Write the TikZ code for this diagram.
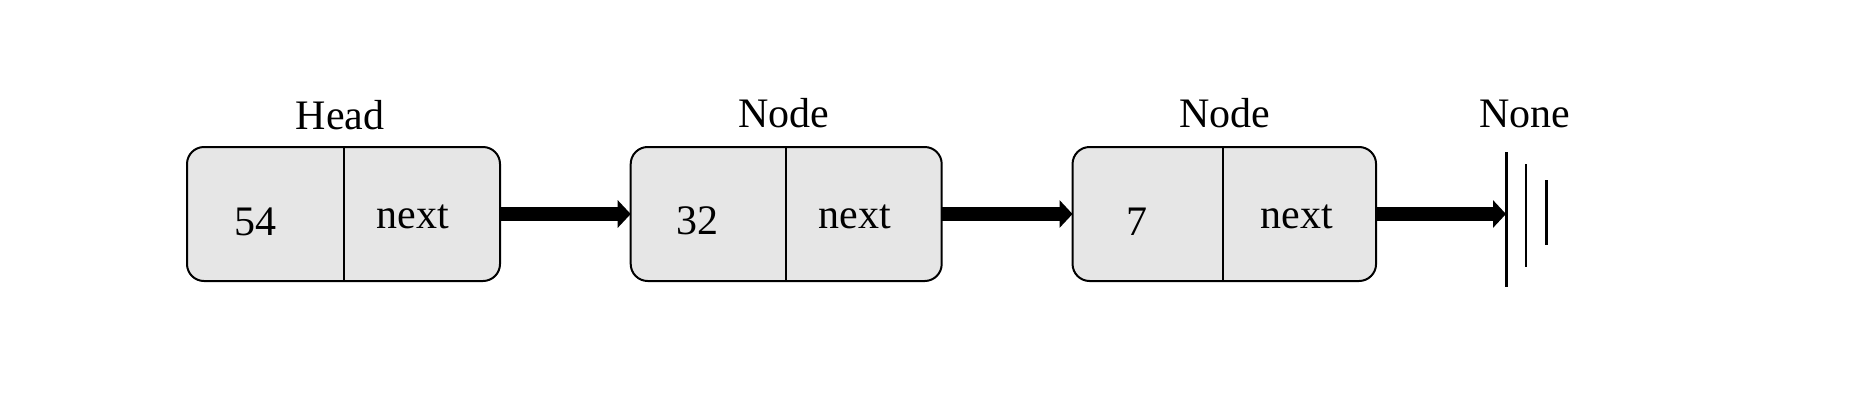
\documentclass[tikz,border=0pt]{standalone}
\usepackage{fontspec}
\setmainfont{Liberation Serif}
\usetikzlibrary{arrows.meta}
\definecolor{cellgray}{HTML}{E6E6E6}
\tikzset{
  cellbox/.style={draw=black, line width=2pt, fill=cellgray, rounded corners=17pt,
    minimum height=134pt, outer sep=0pt, inner sep=0pt},
  divider/.style={line width=2pt},
  txt/.style={anchor=base, inner sep=0pt, font=\fontsize{42}{50}\selectfont},
  link/.style={line width=13.5pt, -{Triangle[length=13pt, width=27pt]}},
  bar/.style={line width=3pt},
}
\begin{document}
\begin{tikzpicture}[x=1pt, y=-1pt]
\useasboundingbox (0,0) rectangle (1852,416);
% boxes
\node[cellbox, minimum width=313pt] (b1) at (343.5,214) {};
\node[cellbox, minimum width=311pt] (b2) at (786.2,214) {};
\node[cellbox, minimum width=303.5pt] (b3) at (1224.3,214) {};
% dividers
\draw[divider] (b1.north -| 344,0) -- (b1.south -| 344,0);
\draw[divider] (b2.north -| 786,0) -- (b2.south -| 786,0);
\draw[divider] (b3.north -| 1222.7,0) -- (b3.south -| 1222.7,0);
% labels above
\node[txt] (l1) at (340,129) {Head};
\node[txt] (l2) at (784,127) {Node};
\node[txt] (l3) at (1224.5,127) {Node};
\node[txt] (l4) at (1525,127) {None};
% cell texts
\node[txt] (v1) at (255,235) {54};
\node[txt] (n1) at (413,228) {next};
\node[txt] (v2) at (697,234) {32};
\node[txt] (n2) at (855,228) {next};
\node[txt] (v3) at (1137,235) {7};
\node[txt] (n3) at (1297,228) {next};
% None symbol
\coordinate (nil) at (1506,214);
\draw[bar] (1506,152) -- (1506,287);
\draw[line width=2pt] (1526,164) -- (1526,267);
\draw[bar] (1546,180) -- (1546,245);
% links
\draw[link] (b1.east) -- (b2.west);
\draw[link] (b2.east) -- (b3.west);
\draw[link] (b3.east) -- (nil);
\end{tikzpicture}
\end{document}
